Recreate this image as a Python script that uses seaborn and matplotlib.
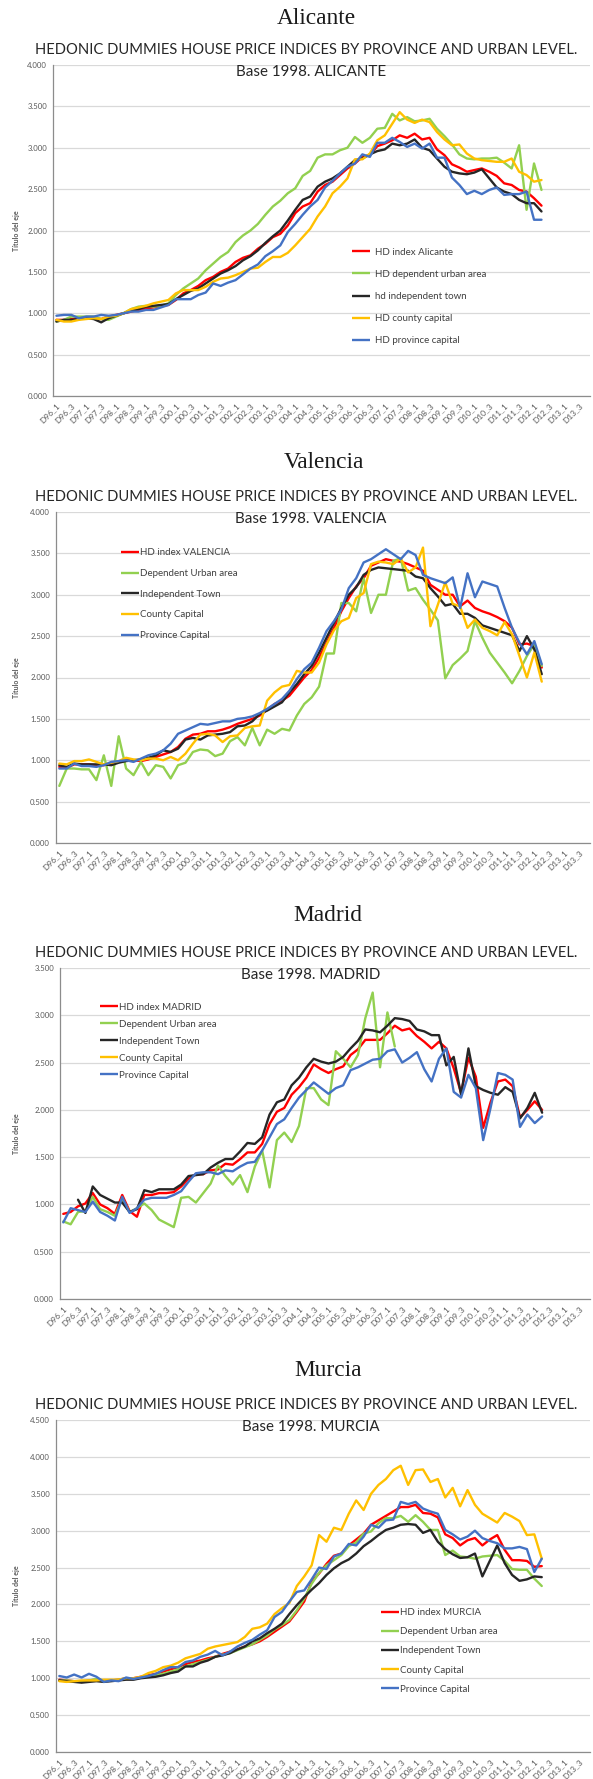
import matplotlib
matplotlib.use("Agg")
import matplotlib.pyplot as plt
from matplotlib.lines import Line2D
import numpy as np
import pandas as pd
import seaborn as sns

# ── Data (index value, base 1998) ───────────────────────────────────────────
YEARS = ["96", "97", "98", "99", "00", "01", "02", "03", "04",
         "05", "06", "07", "08", "09", "10", "11", "12", "13"]
CATEGORIES = [f"D{y}_{q}" for y in YEARS for q in range(1, 5)]

SERIES_COLORS = ["#FF0000", "#92D050", "#262626", "#FFC000", "#4472C4"]

ALICANTE_LABELS = ["HD index Alicante", "HD dependent urban area",
                   "hd independent town", "HD county capital", "HD province capital"]
ALICANTE_HD = [0.92, 0.92, 0.93, 0.94, 0.95, 0.94, 0.93, 0.96, 0.98, 1.00, 1.02, 1.04, 1.06, 1.07, 1.09, 1.10,
               1.16, 1.24, 1.28, 1.33, 1.40, 1.44, 1.50, 1.54, 1.62, 1.67, 1.70, 1.78, 1.84, 1.92, 1.96, 2.06,
               2.21, 2.29, 2.33, 2.47, 2.55, 2.59, 2.67, 2.75, 2.81, 2.89, 2.91, 3.02, 3.05, 3.09, 3.15, 3.12,
               3.17, 3.10, 3.12, 2.98, 2.91, 2.80, 2.76, 2.71, 2.73, 2.75, 2.71, 2.66, 2.57, 2.55, 2.49, 2.47,
               2.39, 2.30]
ALICANTE_DEP = [0.90, 0.92, 0.96, 0.96, 0.96, 0.96, 0.93, 0.92, 0.96, 1.00, 1.05, 1.08, 1.09, 1.08, 1.09, 1.12,
                1.22, 1.30, 1.36, 1.42, 1.52, 1.60, 1.68, 1.74, 1.86, 1.94, 2.00, 2.08, 2.19, 2.29, 2.36, 2.45,
                2.51, 2.66, 2.72, 2.88, 2.92, 2.92, 2.97, 3.00, 3.13, 3.06, 3.12, 3.23, 3.24, 3.41, 3.33, 3.37,
                3.32, 3.33, 3.35, 3.23, 3.14, 3.04, 2.92, 2.87, 2.86, 2.87, 2.87, 2.88, 2.82, 2.75, 3.03, 2.25,
                2.81, 2.49]
ALICANTE_IND = [0.90, 0.92, 0.92, 0.93, 0.94, 0.93, 0.89, 0.94, 0.97, 1.00, 1.03, 1.05, 1.08, 1.09, 1.10, 1.11,
                1.17, 1.22, 1.27, 1.30, 1.36, 1.42, 1.48, 1.52, 1.57, 1.64, 1.69, 1.76, 1.85, 1.93, 2.00, 2.12,
                2.25, 2.37, 2.41, 2.53, 2.59, 2.63, 2.69, 2.77, 2.85, 2.87, 2.92, 2.96, 2.98, 3.05, 3.03, 3.05,
                3.10, 3.00, 2.97, 2.87, 2.77, 2.71, 2.69, 2.68, 2.70, 2.74, 2.63, 2.52, 2.47, 2.44, 2.37, 2.33,
                2.33, 2.23]
ALICANTE_CTY = [0.92, 0.90, 0.90, 0.92, 0.93, 0.94, 0.93, 0.96, 0.97, 1.00, 1.05, 1.07, 1.09, 1.12, 1.14, 1.16,
                1.24, 1.28, 1.28, 1.28, 1.32, 1.38, 1.42, 1.43, 1.46, 1.50, 1.54, 1.55, 1.62, 1.68, 1.68, 1.73,
                1.82, 1.92, 2.02, 2.17, 2.29, 2.45, 2.53, 2.63, 2.86, 2.86, 2.93, 3.09, 3.15, 3.29, 3.43, 3.34,
                3.30, 3.34, 3.31, 3.19, 3.10, 3.03, 3.04, 2.93, 2.87, 2.85, 2.84, 2.83, 2.83, 2.87, 2.71, 2.67,
                2.59, 2.61]
ALICANTE_PRV = [0.97, 0.98, 0.98, 0.94, 0.96, 0.96, 0.98, 0.97, 0.98, 1.00, 1.02, 1.02, 1.04, 1.04, 1.07, 1.10,
                1.17, 1.17, 1.17, 1.22, 1.25, 1.36, 1.33, 1.37, 1.40, 1.47, 1.54, 1.59, 1.69, 1.75, 1.82, 1.98,
                2.08, 2.19, 2.29, 2.37, 2.52, 2.60, 2.69, 2.77, 2.81, 2.92, 2.89, 3.06, 3.06, 3.12, 3.07, 3.01,
                3.05, 2.99, 3.05, 2.88, 2.88, 2.64, 2.55, 2.44, 2.48, 2.44, 2.49, 2.52, 2.43, 2.44, 2.44, 2.47,
                2.13, 2.13]

VALENCIA_LABELS = ["HD index VALENCIA", "Dependent Urban area", "Independent Town",
                   "County Capital", "Province Capital"]
VALENCIA_HD = [0.92, 0.91, 0.95, 0.95, 0.95, 0.94, 0.94, 0.96, 0.98, 1.00, 1.00, 0.99, 1.01, 1.04, 1.07, 1.10,
               1.16, 1.26, 1.31, 1.32, 1.35, 1.35, 1.37, 1.40, 1.44, 1.47, 1.50, 1.54, 1.61, 1.68, 1.72, 1.78,
               1.89, 2.00, 2.09, 2.24, 2.42, 2.60, 2.80, 2.96, 3.10, 3.20, 3.35, 3.39, 3.43, 3.41, 3.40, 3.37,
               3.33, 3.29, 3.12, 3.06, 3.00, 3.00, 2.86, 2.93, 2.84, 2.80, 2.77, 2.73, 2.68, 2.60, 2.40, 2.41,
               2.38, 2.12]
VALENCIA_DEP = [0.69, 0.90, 0.90, 0.89, 0.89, 0.76, 1.06, 0.69, 1.29, 0.90, 0.82, 0.98, 0.82, 0.94, 0.92, 0.78,
                0.94, 0.97, 1.10, 1.13, 1.12, 1.05, 1.08, 1.23, 1.28, 1.18, 1.39, 1.18, 1.37, 1.32, 1.38, 1.36,
                1.54, 1.68, 1.76, 1.89, 2.29, 2.29, 2.90, 2.90, 2.80, 3.20, 2.78, 3.00, 3.00, 3.41, 3.44, 3.05,
                3.08, 2.94, 2.82, 2.69, 1.99, 2.15, 2.23, 2.32, 2.68, 2.48, 2.30, 2.18, 2.06, 1.93, 2.08, 2.26,
                2.40, 2.14]
VALENCIA_IND = [0.94, 0.92, 0.96, 0.95, 0.95, 0.95, 0.95, 0.94, 0.97, 0.99, 1.00, 1.01, 1.03, 1.06, 1.12, 1.10,
                1.14, 1.25, 1.27, 1.25, 1.30, 1.31, 1.32, 1.34, 1.41, 1.42, 1.47, 1.56, 1.60, 1.65, 1.70, 1.82,
                1.92, 2.04, 2.14, 2.30, 2.48, 2.66, 2.84, 3.00, 3.09, 3.24, 3.30, 3.33, 3.32, 3.31, 3.30, 3.29,
                3.22, 3.20, 3.08, 2.98, 2.87, 2.89, 2.77, 2.77, 2.72, 2.63, 2.60, 2.57, 2.54, 2.51, 2.32, 2.50,
                2.34, 2.04]
VALENCIA_CTY = [0.96, 0.95, 0.99, 0.99, 1.01, 0.98, 0.95, 0.97, 0.99, 1.03, 1.01, 1.00, 1.02, 1.02, 1.00, 1.04,
                1.00, 1.08, 1.20, 1.31, 1.32, 1.30, 1.22, 1.29, 1.30, 1.39, 1.41, 1.42, 1.72, 1.82, 1.89, 1.91,
                2.08, 2.06, 2.06, 2.18, 2.40, 2.57, 2.68, 2.72, 2.96, 3.02, 3.37, 3.40, 3.39, 3.37, 3.44, 3.27,
                3.33, 3.57, 2.62, 2.88, 3.15, 2.89, 2.86, 2.60, 2.70, 2.60, 2.56, 2.51, 2.67, 2.52, 2.26, 2.00,
                2.30, 1.95]
VALENCIA_PRV = [0.90, 0.90, 0.96, 0.93, 0.93, 0.92, 0.94, 0.98, 0.99, 1.00, 0.98, 1.02, 1.06, 1.08, 1.12, 1.20,
                1.32, 1.36, 1.40, 1.44, 1.43, 1.45, 1.47, 1.47, 1.50, 1.51, 1.53, 1.57, 1.62, 1.68, 1.74, 1.84,
                1.98, 2.10, 2.18, 2.36, 2.56, 2.68, 2.82, 3.08, 3.20, 3.39, 3.43, 3.49, 3.55, 3.49, 3.43, 3.53,
                3.48, 3.24, 3.20, 3.17, 3.14, 3.21, 2.84, 3.26, 2.97, 3.16, 3.13, 3.10, 2.84, 2.60, 2.42, 2.28,
                2.44, 2.16]

MADRID_LABELS = ["HD index MADRID", "Dependent Urban area", "Independent Town",
                 "County Capital", "Province Capital"]
MADRID_HD = [0.90, 0.92, 0.98, 1.01, 1.12, 1.00, 0.96, 0.90, 1.10, 0.93, 0.87, 1.10, 1.10, 1.12, 1.12, 1.13,
             1.19, 1.27, 1.32, 1.32, 1.36, 1.37, 1.43, 1.42, 1.48, 1.55, 1.55, 1.64, 1.85, 1.98, 2.02, 2.16,
             2.24, 2.34, 2.48, 2.43, 2.39, 2.43, 2.46, 2.58, 2.64, 2.74, 2.74, 2.74, 2.81, 2.89, 2.84, 2.86,
             2.78, 2.72, 2.65, 2.72, 2.65, 2.44, 2.18, 2.55, 2.35, 1.81, 2.08, 2.30, 2.32, 2.25, 1.92, 2.00,
             2.09, 2.00]
MADRID_DEP = [0.82, 0.79, 0.92, 0.93, 1.08, 0.95, 0.92, 0.88, 1.06, 0.92, 0.96, 1.01, 0.94, 0.84, 0.80, 0.76,
              1.07, 1.08, 1.02, 1.12, 1.22, 1.41, 1.30, 1.21, 1.31, 1.13, 1.40, 1.57, 1.18, 1.68, 1.76, 1.66,
              1.83, 2.23, 2.23, 2.11, 2.05, 2.62, 2.54, 2.45, 2.58, 2.97, 3.24, 2.45, 3.03, 2.67]
MADRID_IND = [None, None, 1.05, 0.91, 1.19, 1.10, 1.06, 1.02, 1.02, 0.92, 0.95, 1.15, 1.13, 1.16, 1.16, 1.16,
              1.21, 1.30, 1.31, 1.32, 1.39, 1.44, 1.48, 1.48, 1.56, 1.65, 1.64, 1.71, 1.95, 2.08, 2.11, 2.26,
              2.34, 2.45, 2.54, 2.51, 2.49, 2.51, 2.56, 2.65, 2.73, 2.85, 2.84, 2.82, 2.89, 2.97, 2.96, 2.94,
              2.85, 2.83, 2.79, 2.79, 2.47, 2.56, 2.16, 2.65, 2.25, 2.21, 2.18, 2.16, 2.24, 2.19, 1.91, 2.02,
              2.18, 1.97]
MADRID_CTY = []
MADRID_PRV = [0.81, 0.96, 0.94, 0.92, 1.03, 0.92, 0.88, 0.83, 1.08, 0.91, 0.96, 1.05, 1.07, 1.07, 1.07, 1.10,
              1.14, 1.24, 1.33, 1.34, 1.34, 1.32, 1.36, 1.35, 1.40, 1.44, 1.45, 1.57, 1.71, 1.85, 1.90, 2.02,
              2.13, 2.21, 2.29, 2.23, 2.17, 2.23, 2.26, 2.42, 2.45, 2.49, 2.53, 2.54, 2.62, 2.64, 2.50, 2.55,
              2.61, 2.43, 2.30, 2.54, 2.65, 2.19, 2.13, 2.37, 2.23, 1.68, 2.02, 2.39, 2.37, 2.32, 1.82, 1.95,
              1.86, 1.93]

MURCIA_LABELS = ["HD index MURCIA", "Dependent Urban area", "Independent Town",
                 "County Capital", "Province Capital"]
MURCIA_HD = [0.98, 0.97, 0.96, 0.95, 0.97, 0.98, 0.97, 0.97, 0.98, 1.00, 1.00, 1.02, 1.04, 1.06, 1.09, 1.12,
             1.15, 1.19, 1.22, 1.24, 1.27, 1.29, 1.33, 1.36, 1.39, 1.43, 1.46, 1.50, 1.56, 1.63, 1.70, 1.77,
             1.90, 2.04, 2.31, 2.42, 2.55, 2.66, 2.69, 2.80, 2.88, 2.96, 3.08, 3.14, 3.20, 3.26, 3.32, 3.32,
             3.35, 3.24, 3.23, 3.18, 2.95, 2.90, 2.80, 2.87, 2.90, 2.80, 2.88, 2.94, 2.74, 2.60, 2.60, 2.59,
             2.51, 2.52]
MURCIA_DEP = [0.97, 0.97, 0.96, 0.96, 0.97, 0.99, 0.97, 0.97, 0.98, 1.00, 0.99, 1.01, 1.03, 1.04, 1.06, 1.09,
              1.12, 1.16, 1.19, 1.22, 1.25, 1.29, 1.32, 1.34, 1.38, 1.42, 1.46, 1.52, 1.58, 1.66, 1.72, 1.79,
              1.92, 2.08, 2.28, 2.43, 2.53, 2.60, 2.67, 2.79, 2.84, 2.96, 2.99, 3.10, 3.17, 3.17, 3.20, 3.12,
              3.21, 3.12, 3.01, 3.01, 2.67, 2.73, 2.65, 2.64, 2.62, 2.65, 2.66, 2.67, 2.59, 2.48, 2.47, 2.47,
              2.35, 2.25]
MURCIA_IND = [0.97, 0.96, 0.95, 0.94, 0.95, 0.96, 0.95, 0.96, 0.97, 0.98, 0.98, 1.00, 1.01, 1.02, 1.04, 1.07,
              1.09, 1.16, 1.16, 1.21, 1.24, 1.29, 1.31, 1.34, 1.39, 1.43, 1.50, 1.54, 1.61, 1.67, 1.74, 1.87,
              1.99, 2.10, 2.20, 2.29, 2.40, 2.49, 2.56, 2.61, 2.69, 2.79, 2.86, 2.94, 3.01, 3.04, 3.08, 3.09,
              3.08, 2.97, 3.01, 2.85, 2.75, 2.68, 2.63, 2.64, 2.69, 2.38, 2.59, 2.80, 2.56, 2.40, 2.32, 2.34,
              2.38, 2.37]
MURCIA_CTY = [0.96, 0.95, 0.96, 0.97, 0.97, 0.97, 0.98, 0.98, 0.98, 1.00, 1.00, 1.02, 1.07, 1.10, 1.15, 1.17,
              1.21, 1.27, 1.30, 1.33, 1.40, 1.43, 1.45, 1.47, 1.49, 1.56, 1.67, 1.69, 1.74, 1.87, 1.95, 2.02,
              2.25, 2.38, 2.53, 2.94, 2.85, 3.04, 3.01, 3.23, 3.41, 3.28, 3.50, 3.62, 3.70, 3.82, 3.88, 3.62,
              3.82, 3.83, 3.66, 3.70, 3.45, 3.58, 3.33, 3.55, 3.35, 3.23, 3.17, 3.11, 3.24, 3.19, 3.13, 2.94,
              2.95, 2.62]
MURCIA_PRV = [1.03, 1.01, 1.05, 1.01, 1.06, 1.02, 0.95, 0.97, 0.96, 1.01, 0.99, 1.01, 1.03, 1.06, 1.11, 1.15,
              1.15, 1.22, 1.24, 1.29, 1.32, 1.37, 1.31, 1.36, 1.43, 1.48, 1.52, 1.59, 1.65, 1.83, 1.90, 2.04,
              2.17, 2.19, 2.34, 2.50, 2.48, 2.65, 2.69, 2.82, 2.80, 2.92, 3.08, 3.04, 3.14, 3.15, 3.39, 3.36,
              3.39, 3.30, 3.26, 3.23, 3.01, 2.95, 2.88, 2.92, 3.00, 2.90, 2.86, 2.83, 2.76, 2.76, 2.78, 2.75,
              2.44, 2.62]

# ── Layout (figure pixels, 593 x 1779) ─────────────────────────────────────
W, H = 593, 1779
RIGHT = 590
SUPTITLE = "HEDONIC DUMMIES HOUSE PRICE INDICES BY PROVINCE AND URBAN LEVEL."

PANELS = [
    dict(name="Alicante", upper="ALICANTE", ymax=4.0, left=52.7, top=65, bottom=396, title_x=316, title_y=18,
         series=[ALICANTE_HD, ALICANTE_DEP, ALICANTE_IND, ALICANTE_CTY, ALICANTE_PRV], labels=ALICANTE_LABELS,
         leg_x=39.6, leg_y=1.72, leg_row=23.0, leg_gap=0.5),
    dict(name="Valencia", upper="VALENCIA", ymax=4.0, left=55.6, top=512, bottom=843, title_x=324, title_y=463,
         series=[VALENCIA_HD, VALENCIA_DEP, VALENCIA_IND, VALENCIA_CTY, VALENCIA_PRV], labels=VALENCIA_LABELS,
         leg_x=8.3, leg_y=3.49, leg_row=21.6, leg_gap=0.1),
    dict(name="Madrid", upper="MADRID", ymax=3.5, left=59.6, top=968, bottom=1299, title_x=328, title_y=916,
         series=[MADRID_HD, MADRID_DEP, MADRID_IND, MADRID_CTY, MADRID_PRV], labels=MADRID_LABELS,
         leg_x=5.0, leg_y=3.07, leg_row=17.9, leg_gap=0.1),
    dict(name="Murcia", upper="MURCIA", ymax=4.5, left=55.6, top=1420, bottom=1752, title_x=328, title_y=1370,
         series=[MURCIA_HD, MURCIA_DEP, MURCIA_IND, MURCIA_CTY, MURCIA_PRV], labels=MURCIA_LABELS,
         leg_x=43.4, leg_y=1.87, leg_row=20.0, leg_gap=0.1),
]

LINE_W = 1.7
LEG_FS = 7.0

sns.set_theme(style="white")
plt.rcParams["font.family"] = ["Lato", "DejaVu Sans"]

fig = plt.figure(figsize=(W / 100, H / 100), dpi=100)
x_idx = np.arange(len(CATEGORIES))


def draw_panel(p):
    left, top, bottom = p["left"], p["top"], p["bottom"]
    ax = fig.add_axes([left / W, 1 - bottom / H, (RIGHT - left) / W, (bottom - top) / H])

    handles = []
    for vals, color in zip(p["series"], SERIES_COLORS):
        handles.append(Line2D([], [], color=color, lw=LINE_W, solid_capstyle="butt"))
        if len(vals) == 0:
            continue  # series listed in the legend but without data
        y = np.full(len(CATEGORIES), np.nan)
        y[:len(vals)] = np.array(vals, dtype=float)
        df = pd.DataFrame({"x": x_idx, "y": y}).dropna()
        sns.lineplot(data=df, x="x", y="y", ax=ax, color=color, lw=LINE_W,
                     estimator=None, sort=False)

    ticks = np.arange(0, p["ymax"] + 0.01, 0.5)
    ax.set_xlim(-0.5, len(CATEGORIES) - 0.5)
    ax.set_ylim(0, p["ymax"])
    ax.set_yticks(ticks)
    ax.set_yticklabels([f"{v:.3f}" for v in ticks])
    ax.set_xticks(x_idx[::2])
    ax.set_xticklabels(CATEGORIES[::2], rotation=45, ha="right", rotation_mode="anchor")
    ax.tick_params(axis="both", length=0, labelcolor="#595959")
    ax.tick_params(axis="y", labelsize=5.6, pad=4)
    ax.tick_params(axis="x", labelsize=6.0, pad=4)
    ax.set_xlabel("")
    ax.set_ylabel("")
    ax.yaxis.grid(True, color="#D9D9D9", lw=0.9)
    ax.xaxis.grid(False)
    ax.set_axisbelow(True)
    for side in ["top", "right"]:
        ax.spines[side].set_visible(False)
    for side in ["left", "bottom"]:
        ax.spines[side].set_color("#8C8C8C")
        ax.spines[side].set_linewidth(0.9)

    # legend: first row centred on leg_y, rows leg_row px apart
    fs_px = LEG_FS * 100 / 72
    text_h = 1.2 * fs_px - 1.8
    spacing = (p["leg_row"] - text_h) / fs_px
    px_per_unit = (bottom - top) / p["ymax"]
    anchor_y = p["leg_y"] + (text_h / 2 + 1) / px_per_unit
    ax.legend(handles, p["labels"], loc="upper left", bbox_to_anchor=(p["leg_x"], anchor_y),
              bbox_transform=ax.transData, frameon=False, fontsize=LEG_FS,
              handlelength=18 / fs_px, handletextpad=p["leg_gap"], labelspacing=spacing,
              borderpad=0, borderaxespad=0, labelcolor="#404040")

    fig.text(p["title_x"] / W, 1 - p["title_y"] / H, p["name"], ha="center", va="center",
             family="Liberation Serif", fontsize=16.8, color="#1A1A1A")
    fig.text(306 / W, 1 - (top - 15) / H, SUPTITLE, ha="center", va="center",
             fontsize=10.6, color="#262626")
    fig.text(311 / W, 1 - (top + 7) / H, f"Base 1998. {p['upper']}", ha="center", va="center",
             fontsize=10.9, color="#262626")
    fig.text(17 / W, 1 - ((top + bottom) / 2) / H, "Título del eje", rotation=90,
             ha="center", va="center", fontsize=5, fontweight="bold", color="#595959")


for panel in PANELS:
    draw_panel(panel)

fig.savefig("out.png", dpi=100, facecolor="white")
